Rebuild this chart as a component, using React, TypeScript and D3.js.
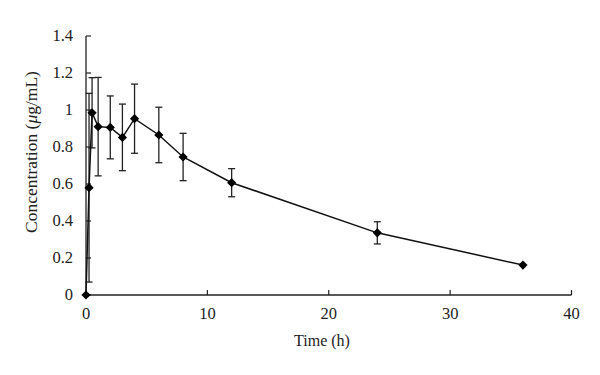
import React from "react";
import * as d3 from "d3";

const times = [0, 0.25, 0.5, 1, 2, 3, 4, 6, 8, 12, 24, 36];
const conc = [0, 0.58, 0.985, 0.91, 0.906, 0.852, 0.953, 0.865, 0.746, 0.607, 0.336, 0.162];
const errs = [0, 0.51, 0.19, 0.266, 0.17, 0.18, 0.187, 0.15, 0.128, 0.076, 0.06, 0];
const xTicks = [0, 10, 20, 30, 40];
const yTicks = [0, 0.2, 0.4, 0.6, 0.8, 1, 1.2, 1.4];

const W = 600, H = 375;
const x0 = 86, x1 = 571.5, y0 = 295, y1 = 36;

export default function App() {
  const x = d3.scaleLinear().domain([0, 40]).range([x0, x1]);
  const y = d3.scaleLinear().domain([0, 1.4]).range([y0, y1]);
  const pts = times.map((t, i) => ({ t, v: conc[i], e: errs[i] }));
  const line = d3.line<{ t: number; v: number }>().x(d => x(d.t)).y(d => y(d.v));
  const font = "'Liberation Serif', 'DejaVu Serif', serif";
  const r = 4.6;
  const diamond = `M0,${-r}L${r},0L0,${r}L${-r},0Z`;
  const cap = 3.5;
  return (
    <svg width={W} height={H} style={{ position: "absolute", left: 0, top: 0 }} fontFamily={font}>
      <rect width={W} height={H} fill="#fff" />
      {/* axes */}
      <line x1={x0} x2={x0} y1={y1} y2={y0} stroke="#222" strokeWidth={1.3} />
      <line x1={x0} x2={x1} y1={y0} y2={y0} stroke="#222" strokeWidth={1.3} />
      {yTicks.map(v => (
        <g key={"y" + v}>
          <line x1={x0} x2={x0 + 5} y1={y(v)} y2={y(v)} stroke="#222" strokeWidth={1.2} />
          <text x={73} y={y(v)} dy="0.3em" textAnchor="end" fontSize={16.5} fill="#222">{v}</text>
        </g>
      ))}
      {xTicks.map(t => (
        <g key={"x" + t}>
          <line x1={x(t)} x2={x(t)} y1={y0} y2={y0 - 5} stroke="#222" strokeWidth={1.2} />
          <text x={x(t)} y={319} textAnchor="middle" fontSize={16.5} fill="#222">{t}</text>
        </g>
      ))}
      <text x={322} y={346} textAnchor="middle" fontSize={16} fill="#222">Time (h)</text>
      <text transform={`translate(37,152) rotate(-90)`} textAnchor="middle" fontSize={17.5} fill="#222">
        Concentration (<tspan fontStyle="italic">μ</tspan>g/mL)
      </text>
      {/* error bars */}
      {pts.filter(p => p.e > 0).map(p => (
        <g key={"e" + p.t} stroke="#222" strokeWidth={1.3}>
          <line x1={x(p.t)} x2={x(p.t)} y1={y(p.v + p.e)} y2={y(p.v - p.e)} />
          <line x1={x(p.t) - cap} x2={x(p.t) + cap} y1={y(p.v + p.e)} y2={y(p.v + p.e)} />
          <line x1={x(p.t) - cap} x2={x(p.t) + cap} y1={y(p.v - p.e)} y2={y(p.v - p.e)} />
        </g>
      ))}
      <path d={line(pts) || ""} fill="none" stroke="#111" strokeWidth={1.5} />
      {pts.map(p => (
        <path key={"m" + p.t} d={diamond} transform={`translate(${x(p.t)},${y(p.v)})`} fill="#000" />
      ))}
    </svg>
  );
}
